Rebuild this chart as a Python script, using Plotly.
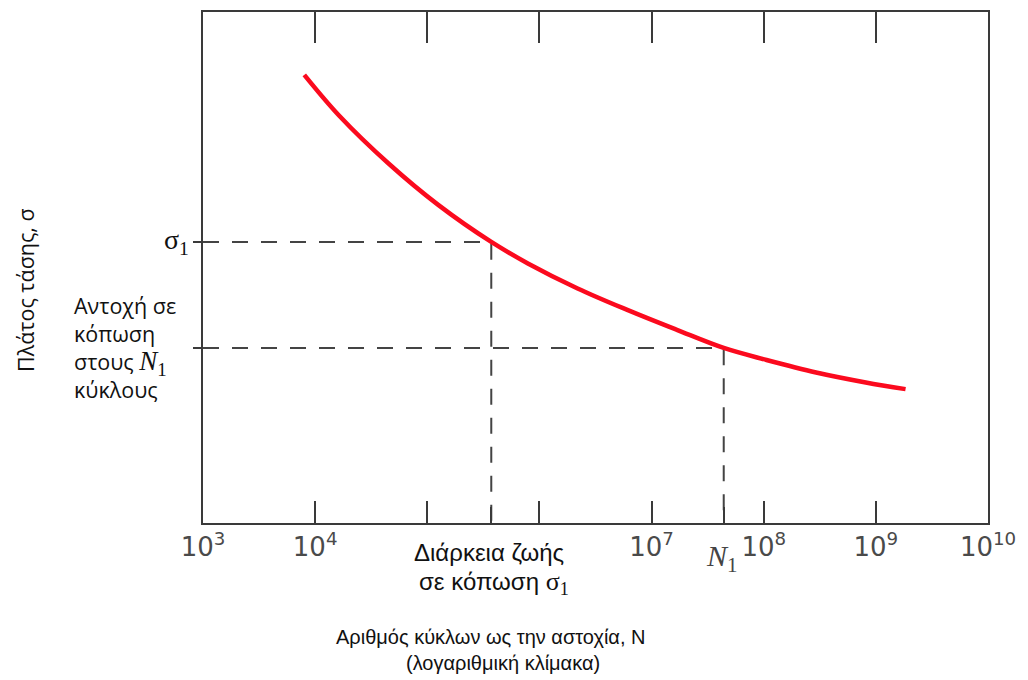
import plotly.graph_objects as go
import numpy as np

# S-N curve (cycles, stress in arbitrary units 0-100)
cycles = [8.0e3, 1.64e4, 4.54e4, 1.26e5, 3.72e5, 7.89e5, 2.19e6, 6.07e6, 1.68e7, 4.4e7, 1.06e8, 2.93e8, 8.13e8, 1.84e9]
stress = [87.7, 79.7, 70.3, 62.2, 55.0, 50.8, 45.9, 41.7, 37.8, 34.25, 31.9, 29.45, 27.5, 26.2]

sigma1 = 55.0
N_sigma1 = 3.72e5
N1 = 4.4e7
sigma_N1 = 34.25

decades = [1e3, 1e4, 1e5, 1e6, 1e7, 1e8, 1e9, 1e10]
decade_labels = ["10<sup>3</sup>", "10<sup>4</sup>", "", "", "10<sup>7</sup>", "10<sup>8</sup>", "10<sup>9</sup>", "10<sup>10</sup>"]
top_ticks = [1e4, 1e5, 1e6, 1e7, 1e8, 1e9]

AX = "#3a3a3a"
DASH = "16px,13px"

fig = go.Figure()

# dashed guide lines
fig.add_trace(go.Scatter(x=[decades[0], N_sigma1, N_sigma1], y=[sigma1, sigma1, 0],
                         mode="lines", line=dict(color="#444", width=2, dash=DASH),
                         showlegend=False, hoverinfo="skip"))
fig.add_trace(go.Scatter(x=[decades[0], N1, N1], y=[sigma_N1, sigma_N1, 0],
                         mode="lines", line=dict(color="#444", width=2, dash=DASH),
                         showlegend=False, hoverinfo="skip"))
# S-N curve
fig.add_trace(go.Scatter(x=cycles, y=stress, mode="lines",
                         line=dict(color="#fb0a1e", width=4.5, shape="spline", smoothing=1.0),
                         showlegend=False, hoverinfo="skip"))
# carriers for overlay axes
fig.add_trace(go.Scatter(x=[decades[0], decades[-1]], y=[None, None], xaxis="x2",
                         showlegend=False, hoverinfo="skip"))
fig.add_trace(go.Scatter(x=[decades[0], decades[-1]], y=[None, None], xaxis="x3",
                         showlegend=False, hoverinfo="skip"))

xr = [np.log10(decades[0]), np.log10(decades[-1])]

fig.update_layout(
    width=1028, height=680,
    margin=dict(l=203, r=30, t=12, b=157),
    paper_bgcolor="white", plot_bgcolor="white",
    xaxis=dict(type="log", range=xr, tickmode="array", tickvals=decades, ticktext=decade_labels,
               ticks="inside", ticklen=22, tickwidth=2, tickcolor=AX,
               showline=True, linecolor=AX, linewidth=2, showgrid=False, zeroline=False,
               tickfont=dict(family="DejaVu Sans", size=26, color="#4a4a4a")),
    xaxis2=dict(type="log", range=xr, overlaying="x", side="top", anchor="y",
                tickmode="array", tickvals=top_ticks, ticks="inside", ticklen=31, tickwidth=2,
                tickcolor=AX, showline=True, linecolor=AX, linewidth=2, showticklabels=False,
                showgrid=False, zeroline=False),
    xaxis3=dict(type="log", range=xr, overlaying="x", side="bottom", anchor="y",
                tickmode="array", tickvals=[N_sigma1, N1], ticks="inside", ticklen=16, tickwidth=2,
                tickcolor=AX, showline=False, showticklabels=False, showgrid=False, zeroline=False),
    yaxis=dict(range=[0, 100], showline=True, mirror=True, linecolor=AX, linewidth=2,
               tickmode="array", tickvals=[sigma_N1, sigma1], ticks="outside", ticklen=8,
               tickwidth=2, tickcolor=AX, showticklabels=False, showgrid=False, zeroline=False),
)

sans = "Liberation Sans, Arial, sans-serif"
segoe = "Open Sans, Noto Sans, sans-serif"
serif = "Liberation Serif, DejaVu Serif, serif"

xfrac = (np.log10(N_sigma1) - xr[0]) / (xr[1] - xr[0])

ann = []
# N1 label under axis
ann.append(dict(x=np.log10(N1), xref="x", y=0, yref="paper", yanchor="top", yshift=-14,
                text="<i>N</i><sub>1</sub>", showarrow=False, xshift=-2,
                font=dict(family=serif, size=30, color="#444")))
# fatigue life label (two lines)
ann.append(dict(x=np.log10(N_sigma1), xref="x", y=0, yref="paper", yanchor="middle", yshift=-29,
                text="Διάρκεια ζωής", showarrow=False, xshift=-2,
                font=dict(family=sans, size=24, color="#111")))
ann.append(dict(x=np.log10(N_sigma1), xref="x", y=0, yref="paper", yanchor="middle", yshift=-60,
                text="σε κόπωση <span style='font-family:Liberation Serif;font-size:26px'>σ<sub>1</sub></span>",
                showarrow=False, xshift=3,
                font=dict(family=sans, size=24, color="#111")))
# x axis title
ann.append(dict(x=xfrac, xref="paper", y=0, yref="paper",
                yanchor="middle", yshift=-114, text="Αριθμός κύκλων ως την αστοχία, N",
                showarrow=False, font=dict(family=sans, size=20, color="#111")))
ann.append(dict(x=xfrac, xref="paper", y=0, yref="paper",
                yanchor="middle", yshift=-140, xshift=12, text="(λογαριθμική κλίμακα)",
                showarrow=False, font=dict(family=sans, size=20, color="#111")))
# sigma1 label left
ann.append(dict(x=0, xref="paper", y=sigma1, yref="y", xanchor="right", xshift=-12,
                text="σ<sub>1</sub>", showarrow=False,
                font=dict(family=serif, size=28, color="#111")))
# endurance label
ann.append(dict(x=0, xref="paper", y=sigma_N1, yref="y", xanchor="left", yanchor="middle",
                xshift=-131, yshift=0,
                text="Αντοχή σε<br>κόπωση<br>στους <span style='font-family:Liberation Serif;font-size:27px'><i>N</i><sub>1</sub></span><br>κύκλους",
                showarrow=False, align="left",
                font=dict(family=segoe, size=21.5, color="#111")))
# y axis title
ann.append(dict(x=0, xref="paper", y=(523 - 290) / 511, yref="paper", xanchor="center", yanchor="middle",
                xshift=-178, textangle=-90,
                text="Πλάτος τάσης, σ", showarrow=False,
                font=dict(family=segoe, size=21.5, color="#111")))

fig.update_layout(annotations=ann)

fig.write_html("out.html")
